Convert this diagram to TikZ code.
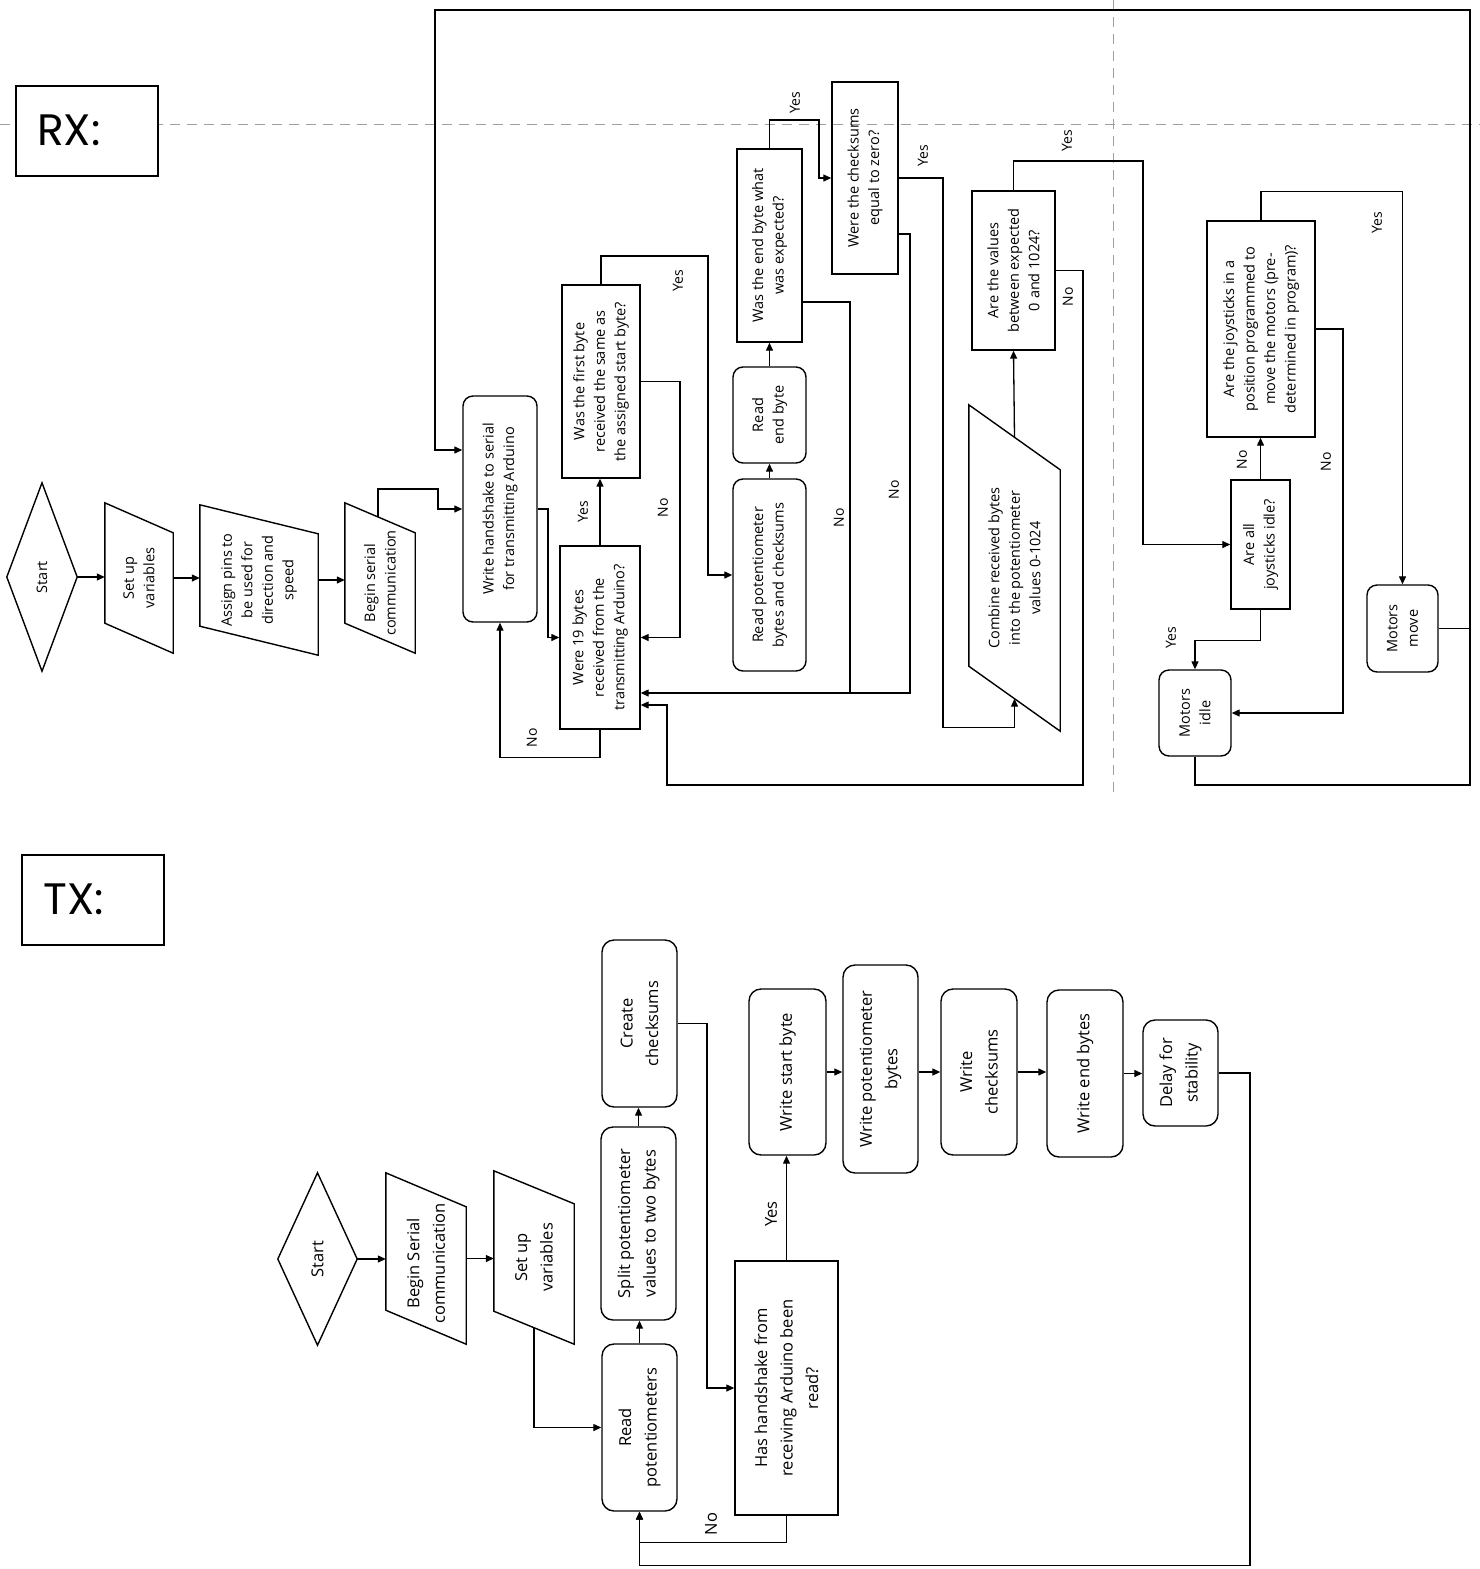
\documentclass[tikz,border=0pt]{standalone}
\usepackage{fontspec}
\setmainfont{Open Sans}
\newfontfamily\headfont{Poppins}
\usetikzlibrary{arrows.meta,calc}
\newcommand\mkbox[7]{\node[#1,minimum width=#4pt,minimum height=#5pt] (#2) at (#3) {}; \node[#6] at (#2) {#7};}
\newcommand\slantshape[2]{\draw[shp] (#1.north west) -- ([yshift=-#2pt]#1.north east) -- (#1.south east) -- ([yshift=#2pt]#1.south west) -- cycle;}
\newcommand\diamondshape[1]{\draw[shp] (#1.west) -- (#1.north) -- (#1.east) -- (#1.south) -- cycle;}
\begin{document}
\begin{tikzpicture}[x=1pt,y=-1pt,
 shp/.style={draw,line width=1.4pt,line join=miter},
 box/.style={shp,rectangle,inner sep=0pt},
 rbox/.style={box,rounded corners=10pt},
 tbox/.style={box,rounded corners=12pt},
 ghost/.style={rectangle,inner sep=0pt,draw=none},
 con/.style={line width=1.3pt},
 arr/.style={con,-{Triangle[length=8pt,width=7pt]}},
 rt/.style={rotate=90,align=center,font=\fontsize{14.5}{20.5}\selectfont,inner sep=0pt},
 tt/.style={rotate=90,align=center,font=\fontsize{16.5}{25.5}\selectfont,inner sep=0pt},
 lab/.style={rotate=90,font=\fontsize{14}{16}\selectfont,inner sep=0pt},
 tlab/.style={rotate=90,font=\fontsize{16.5}{18}\selectfont,inner sep=0pt},
 guide/.style={draw=gray!75,line width=1pt,dash pattern=on 10pt off 7pt},
 head/.style={font=\headfont\fontsize{44}{44}\selectfont,inner sep=0pt,anchor=west}
]
\useasboundingbox[fill=white] (0,0) rectangle (1480,1569);

% guides
\draw[guide] (0,124) -- (1480,124);
\draw[guide] (1113,0) -- (1113,795);

% headers
\node[box,fill=white,minimum width=142pt,minimum height=90pt] (rx) at (87,131) {};
\node[head] (rxt) at (37,130) {RX:};
\node[box,fill=white,minimum width=142pt,minimum height=90pt] (tx) at (93,900) {};
\node[head] (txt) at (43,899) {TX:};

% ================= RX =================
\mkbox{ghost}{rs}{42,577}{70}{188}{rt}{Start}
\diamondshape{rs}
\mkbox{ghost}{rsv}{139,578}{68}{150}{rt}{Set up\\variables}
\slantshape{rsv}{30}
\mkbox{ghost}{rap}{259,580}{118}{150}{rt}{Assign pins to\\be used for\\direction and\\speed}
\slantshape{rap}{29}
\node[ghost,minimum width=70pt,minimum height=150pt] (rbs) at (380,578) {};
\node[rt] (rbst) at ([yshift=-5pt]rbs.center) {Begin serial\\communication};
\slantshape{rbs}{30}
\mkbox{rbox}{rwh}{500,509}{74}{226}{rt}{Write handshake to serial\\for transmitting Arduino}
\mkbox{box}{r19}{600,637.5}{80}{183}{rt}{Were 19 bytes\\received from the\\transmitting Arduino?}
\mkbox{box}{rfb}{601,381.5}{78}{193}{rt}{Was the first byte\\received the same as\\the assigned start byte?}
\mkbox{rbox}{rpb}{769.5,575}{73}{192}{rt}{Read potentiometer\\bytes and checksums}
\mkbox{rbox}{reb}{769.5,415}{73}{96}{rt}{Read\\end byte}
\mkbox{box}{reeb}{769.5,245.5}{65}{193}{rt}{Was the end byte what\\was expected?}
\mkbox{box}{rcs}{865,178}{66}{192}{rt}{Were the checksums\\equal to zero?}
\mkbox{ghost}{rcb}{1014.5,568}{91}{326}{rt}{Combine received bytes\\into the potentiometer\\values 0-1024}
\slantshape{rcb}{65}
\mkbox{box}{rav}{1013.5,270.5}{83}{159}{rt}{Are the values\\between expected\\0 and 1024?}
\mkbox{box}{rjs}{1260.5,544.5}{59}{129}{rt}{Are all\\joysticks idle?}
\mkbox{box}{rjp}{1261,329}{108}{216}{rt}{Are the joysticks in a\\position programmed to\\move the motors (pre-\\determined in program)?}
\mkbox{rbox}{rmi}{1195,713}{72}{86}{rt}{Motors\\idle}
\mkbox{rbox}{rmm}{1402.5,628.5}{71}{87}{rt}{Motors\\move}

% RX connectors
\draw[arr] (rs.east) -- (rs.east -| rsv.west);
\draw[arr] (rsv.east) -- (rsv.east -| rap.west);
\draw[arr] (rap.east) -- (rap.east -| rbs.west);
\draw[arr] ($(rbs.north west)!0.47!([yshift=-30pt]rbs.north east)$) |- (438,489) |- (rwh.west);
\draw[arr] (rwh.east) -| (548,600) |- (r19.west);
\draw[arr] (r19.south) -- ++(0,28) -| (rwh.south);
\draw[arr] (r19.north) -- (r19.north |- rfb.south);
\draw[arr] (rfb.east) -| (680,500) |- (r19.east);
\draw[arr] (rfb.north) |- (708,256) |- (rpb.west);
\draw[arr] (rpb.north) -- (reb.south);
\draw[arr] (reb.north) -- (reeb.south);
\draw[arr] (reeb.north) |- (819,120) |- (rcs.west);
\draw[arr] ([yshift=-56.5pt]reeb.east) -| (850,500) |- ([yshift=-55.5pt]r19.east);
\draw[arr] (rcs.east) -| (943,500) |- ([yshift=4pt]rcb.south) -- ([yshift=32.5pt]rcb.south);
\draw[con] ([yshift=-56pt]rcs.east) -| (910,500) |- (850,693);
\draw[arr] ([yshift=-32.5pt]rcb.north) -- (rav.south);
\draw[arr] (rav.north) |- (1143,161) |- (rjs.west);
\draw[arr] (rav.east) -| (1083,600) |- (667,785) |- ([yshift=-67.5pt]r19.east);
\draw[arr] (rjs.north) -- (rjs.north |- rjp.south);
\draw[arr] (rjs.south) -- ++(0,31) -| (rmi.north);
\draw[arr] (rjp.north) -- ++(0,-29) -| (rmm.north);
\draw[arr] (rjp.east) -| (1343,500) |- (rmi.east);
\draw[arr] (rmi.south) |- (1470,785) |- (435,10) |- ([yshift=59pt]rwh.west);
\draw[con] (rmm.east) -- (rmm.east -| 1470,0);

% RX labels
\node[lab] (l1) at (532,738) {No};
\node[lab] (l2) at (583,512) {Yes};
\node[lab] (l3) at (663,508) {No};
\node[lab] (l4) at (678,281) {Yes};
\node[lab] (l5) at (795,103) {Yes};
\node[lab] (l6) at (839,518) {No};
\node[lab] (l7) at (923,156) {Yes};
\node[lab] (l8) at (894,490) {No};
\node[lab] (l9) at (1067,141) {Yes};
\node[lab] (l10) at (1068,297) {No};
\node[lab] (l11) at (1242,460) {No};
\node[lab] (l12) at (1171,638) {Yes};
\node[lab] (l13) at (1377,223) {Yes};
\node[lab] (l14) at (1326,462) {No};

% ================= TX =================
\mkbox{ghost}{ts}{317.5,1259}{79}{172}{tt}{Start}
\diamondshape{ts}
\node[ghost,minimum width=80pt,minimum height=171pt] (tbs) at (426,1258.5) {};
\node[tt] (tbst) at ([yshift=-5pt]tbs.center) {Begin Serial\\communication};
\slantshape{tbs}{34}
\mkbox{ghost}{tsv}{534,1257.5}{80}{173}{tt}{Set up\\variables}
\slantshape{tsv}{33}
\mkbox{tbox}{trp}{639.5,1427.5}{75}{167}{tt}{Read\\potentiometers}
\mkbox{tbox}{tsp}{638.5,1223.5}{75}{193}{tt}{Split potentiometer\\values to two bytes}
\mkbox{tbox}{tcc}{639.5,1023.5}{75}{167}{tt}{Create\\checksums}
\mkbox{box}{thh}{786.5,1388}{103}{254}{tt}{Has handshake from\\receiving Arduino been\\read?}
\mkbox{tbox}{tws}{787.5,1072}{77}{166}{tt}{Write start byte}
\mkbox{tbox}{twp}{880.5,1069}{75}{208}{tt}{Write potentiometer\\bytes}
\mkbox{tbox}{twc}{979,1072}{76}{166}{tt}{Write\\checksums}
\mkbox{tbox}{twe}{1085,1073.5}{76}{167}{tt}{Write end bytes}
\mkbox{tbox}{tds}{1180.5,1073}{75}{106}{tt}{Delay for\\stability}

% TX connectors
\draw[arr] (ts.east) -- (ts.east -| tbs.west);
\draw[arr] (tbs.east) -- (tbs.east -| tsv.west);
\draw[arr] ([yshift=16.5pt]tsv.south) |- (trp.west);
\draw[arr] (trp.north) -- (trp.north |- tsp.south);
\draw[arr] (tsp.north) -- (tsp.north |- tcc.south);
\draw[arr] (tcc.east) -| (707,1200) |- (thh.west);
\draw[arr] (thh.north) -- (thh.north |- tws.south);
\draw[arr] (thh.south) -- ++(0,27) -| (trp.south);
\draw[arr] (tws.east) -- (tws.east -| twp.west);
\draw[arr] (twp.east |- tws.east) -- (twc.west);
\draw[arr] (twc.east) -- (twc.east -| twe.west);
\draw[arr] (twe.east) -- (twe.east -| tds.west);
\draw[arr] (tds.east) -| (1250,1300) |- ([yshift=-54pt]trp.south) -- (trp.south);

% TX labels
\node[tlab] (t1) at (771,1214) {Yes};
\node[tlab] (t2) at (711,1524) {No};
\end{tikzpicture}
\end{document}
